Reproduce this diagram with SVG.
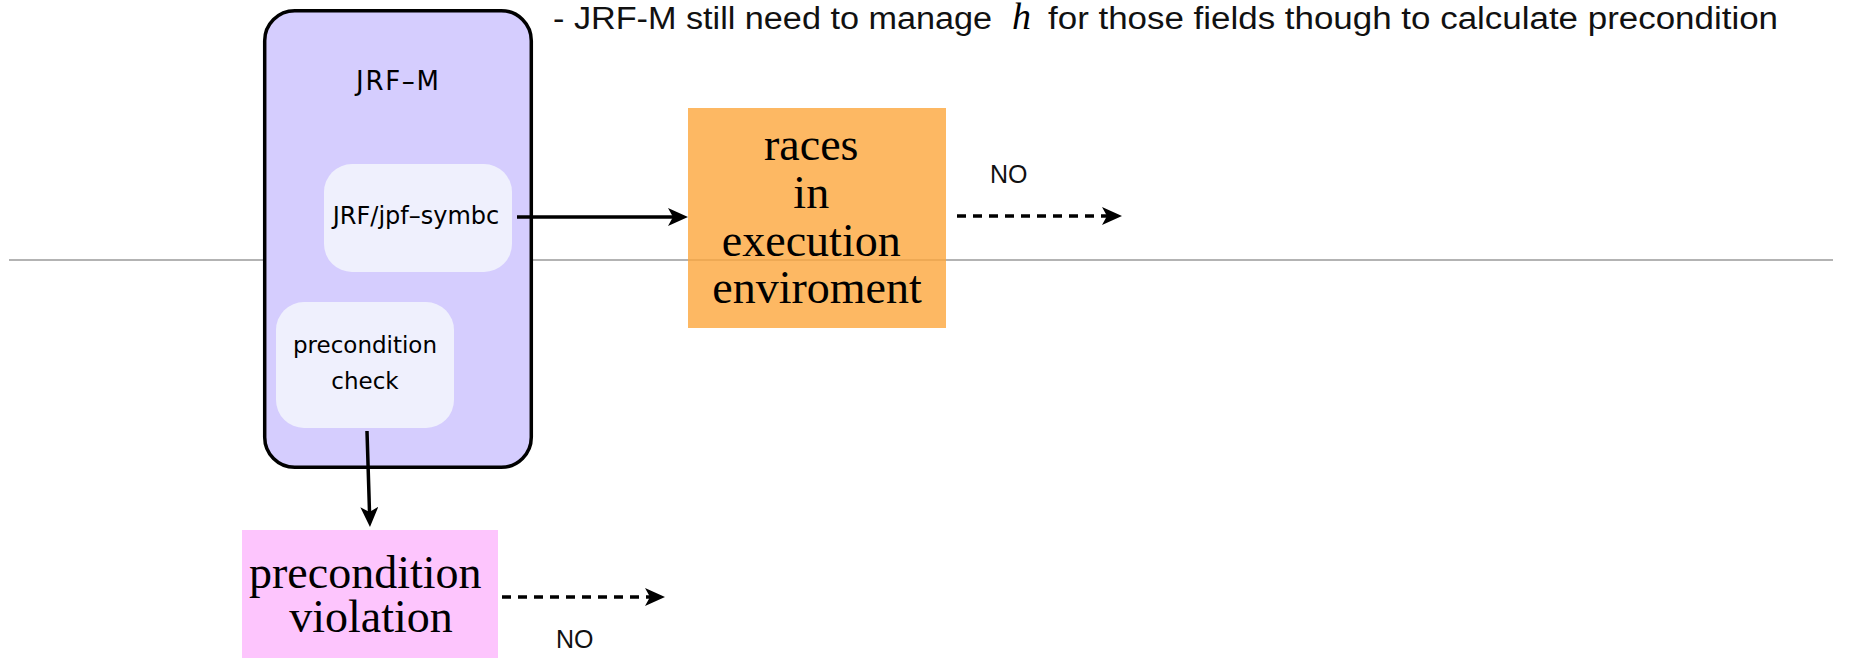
<svg xmlns="http://www.w3.org/2000/svg" width="1857" height="658" viewBox="0 0 1857 658">
  <defs>
    <style>
      .sans { font-family: "DejaVu Sans", "Noto Sans", sans-serif; fill: #000; }
      .serif { font-family: "Liberation Serif", "Times New Roman", serif; fill: #000; }
      .note { font-family: "Liberation Sans", Arial, sans-serif; fill: #111; }
      .edge { fill: none; stroke: #000; stroke-width: 3.5; }
      .dashed { stroke-dasharray: 9 7; }
    </style>
    <marker id="arrow" viewBox="0 0 20 18" refX="8" refY="9" markerWidth="20" markerHeight="18" markerUnits="userSpaceOnUse" orient="auto">
      <path d="M0,0 L20,9 L0,18 L5,9 Z" fill="#000"/>
    </marker>
  </defs>

  <rect width="1857" height="658" fill="#fff"/>

  <!-- heading note -->
  <g id="note">
    <text class="note" x="553" y="29" font-size="31" textLength="439" lengthAdjust="spacingAndGlyphs">- JRF-M still need to manage</text>
    <text class="serif" x="1012" y="29" font-size="38" font-style="italic">h</text>
    <text class="note" x="1048" y="29" font-size="31" textLength="730" lengthAdjust="spacingAndGlyphs">for those fields though to calculate precondition</text>
  </g>

  <!-- divider -->
  <line id="divider" x1="9" y1="260" x2="1833" y2="260" stroke="#9a9a9a" stroke-width="1.6"/>

  <!-- JRF-M container with its two inner stages -->
  <g id="jrf-m">
    <rect x="264.7" y="10.7" width="266.6" height="456.6" rx="30" fill="#d5cdfe" stroke="#000" stroke-width="3.5"/>
    <text class="sans" x="356" y="90" font-size="26" textLength="83" lengthAdjust="spacing">JRF–M</text>
  </g>
  <g id="jpf-symbc">
    <rect x="324" y="164" width="188" height="108" rx="28" fill="#eff0fd"/>
    <text class="sans" x="416" y="224" font-size="24" text-anchor="middle">JRF/jpf–symbc</text>
  </g>
  <g id="precondition-check">
    <rect x="276" y="302" width="178" height="126" rx="28" fill="#eff0fd"/>
    <text class="sans" x="365" y="353" font-size="23" text-anchor="middle">precondition</text>
    <text class="sans" x="365" y="389" font-size="23" text-anchor="middle">check</text>
  </g>

  <!-- outcomes -->
  <g id="races">
    <rect x="688" y="108" width="258" height="220" fill="#fca63c" fill-opacity="0.8"/>
    <text class="serif" font-size="46" text-anchor="middle">
      <tspan x="817" y="160">races</tspan>
      <tspan x="817" y="208">in</tspan>
      <tspan x="817" y="256">execution</tspan>
      <tspan x="817" y="303">enviroment</tspan>
    </text>
  </g>
  <g id="violation">
    <rect x="242" y="530" width="256" height="128" fill="#fdc5fd"/>
    <text class="serif" font-size="46" text-anchor="middle">
      <tspan x="371" y="588">precondition</tspan>
      <tspan x="371" y="632">violation</tspan>
    </text>
  </g>

  <!-- connectors -->
  <g id="connectors">
    <line class="edge" x1="517" y1="217" x2="676" y2="217" marker-end="url(#arrow)"/>
    <line class="edge dashed" x1="957" y1="216" x2="1110" y2="216" marker-end="url(#arrow)"/>
    <line class="edge" x1="367" y1="431" x2="369.6" y2="515" marker-end="url(#arrow)"/>
    <line class="edge dashed" x1="502" y1="597" x2="653" y2="597" marker-end="url(#arrow)"/>
    <text class="note" x="990" y="183" font-size="25">NO</text>
    <text class="note" x="556" y="648" font-size="25">NO</text>
  </g>
</svg>
